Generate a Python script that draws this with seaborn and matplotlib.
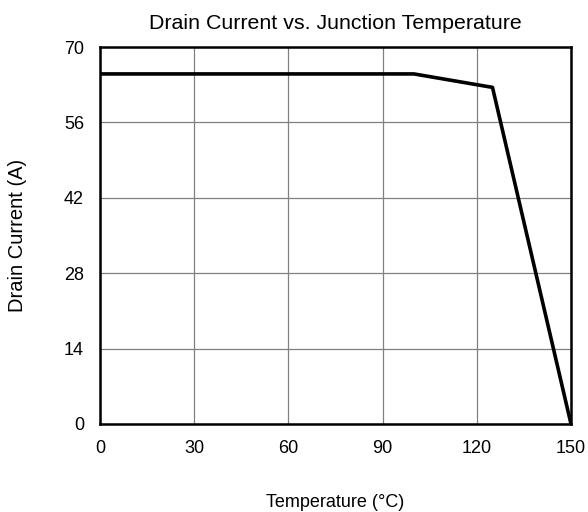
import pandas as pd
import matplotlib
matplotlib.use('Agg')
import matplotlib.pyplot as plt
import seaborn as sns

# Data
temperature = [0, 100, 125, 150]
drain_current = [65, 65, 62.5, 0]
x_ticks = [0, 30, 60, 90, 120, 150]
y_ticks = [0, 14, 28, 42, 56, 70]

sns.set_theme(style="white")
plt.rcParams['font.family'] = ['Liberation Sans', 'DejaVu Sans']

df = pd.DataFrame({'Temperature': temperature, 'Drain Current': drain_current})

fig = plt.figure(figsize=(5.88, 5.12), dpi=100)
ax = fig.add_axes([100 / 588, 1 - 424 / 512, 471 / 588, 377 / 512])

sns.lineplot(data=df, x='Temperature', y='Drain Current', color='black', linewidth=2.6, ax=ax)

ax.set_xlim(0, 150)
ax.set_ylim(0, 70)
ax.set_xticks(x_ticks)
ax.set_yticks(y_ticks)
ax.grid(True, color='#808080', linewidth=0.9)
ax.tick_params(axis='both', length=0, labelsize=13, labelcolor='black', pad=11.5)
for spine in ax.spines.values():
    spine.set_color('black')
    spine.set_linewidth(1.8)

ax.set_title('Drain Current vs. Junction Temperature', fontsize=15.4, color='black', pad=13)
ax.set_xlabel('Temperature (°C)', fontsize=13, color='black', labelpad=27)
ax.set_ylabel('Drain Current (A)', fontsize=14.5, color='black', labelpad=26.5)

fig.savefig('out.png', dpi=100)
